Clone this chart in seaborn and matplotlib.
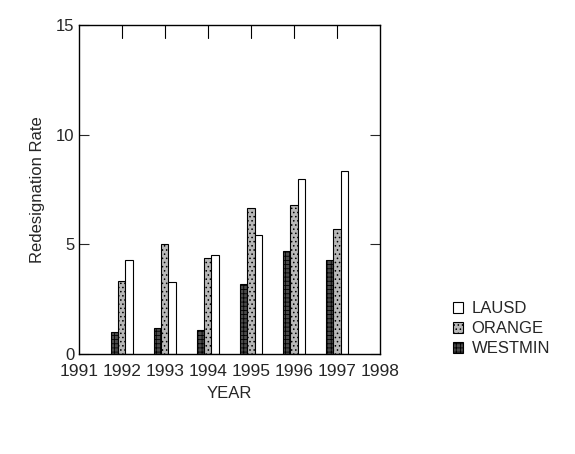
import matplotlib
matplotlib.use("Agg")
import matplotlib.pyplot as plt
import seaborn as sns
import pandas as pd
from matplotlib.patches import Patch

years = [1992, 1993, 1994, 1995, 1996, 1997]
westmin = [1.0, 1.2, 1.1, 3.2, 4.7, 4.3]
orange = [3.35, 5.0, 4.4, 6.65, 6.8, 5.7]
lausd = [4.3, 3.3, 4.5, 5.45, 8.0, 8.35]
series_names = ["WESTMIN", "ORANGE", "LAUSD"]
xtick_labels = ["1991", "1992", "1993", "1994", "1995", "1996", "1997", "1998"]
ytick_vals = [0, 5, 10, 15]

rows = []
for name, vals in zip(series_names, [westmin, orange, lausd]):
    for y, v in zip(years, vals):
        rows.append({"YEAR": y, "Rate": v, "District": name})
df = pd.DataFrame(rows)

sns.set_theme(style="ticks")
plt.rcParams['font.family'] = ['Liberation Sans', 'DejaVu Sans']
plt.rcParams['hatch.linewidth'] = 0.6

fig = plt.figure(figsize=(5.75, 4.54), dpi=100)
ax = fig.add_axes([0.137, 0.22, 0.524, 0.725])

colors = {"WESTMIN": "#4a4a4a", "ORANGE": "#b8b8b8", "LAUSD": "#ffffff"}
hatches = {"WESTMIN": "++++", "ORANGE": "....", "LAUSD": ""}

sns.barplot(data=df, x="YEAR", y="Rate", hue="District", hue_order=series_names,
            native_scale=True, palette=colors, edgecolor="black", linewidth=0.8,
            width=0.5, dodge=True, ax=ax, legend=False)

for cont, name in zip(ax.containers, series_names):
    for p in cont:
        p.set_hatch(hatches[name])
        p.set_edgecolor("black")

ax.set_xlim(1991, 1998)
ax.set_ylim(0, 15)
ax.set_yticks(ytick_vals)
ax.set_yticklabels([str(v) for v in ytick_vals], fontsize=12)
ax.set_xticks(list(range(1991, 1999)))
ax.set_xticklabels(xtick_labels, fontsize=12.5)
ax.tick_params(axis="x", length=0, pad=7)
ax.tick_params(axis="y", direction="in", length=7, right=True, width=0.8, pad=3)
for s in ax.spines.values():
    s.set_linewidth(1.0)
    s.set_color("black")

# top inner ticks
for y in years:
    ax.plot([y, y], [15, 14.4], color="black", lw=0.8, clip_on=False)

ax.set_xlabel("YEAR", fontsize=12, labelpad=5)
ax.set_ylabel("Redesignation Rate", fontsize=12, labelpad=8)

handles = [Patch(facecolor=colors[n], edgecolor="black", hatch=hatches[n], linewidth=0.8)
           for n in reversed(series_names)]
fig.legend(handles, list(reversed(series_names)), loc="upper left",
           bbox_to_anchor=(0.774, 0.355), frameon=False, fontsize=12, borderpad=0,
           handlelength=0.6, handleheight=0.6, handletextpad=0.5, labelspacing=0.3)

fig.savefig("out.png", dpi=100)
